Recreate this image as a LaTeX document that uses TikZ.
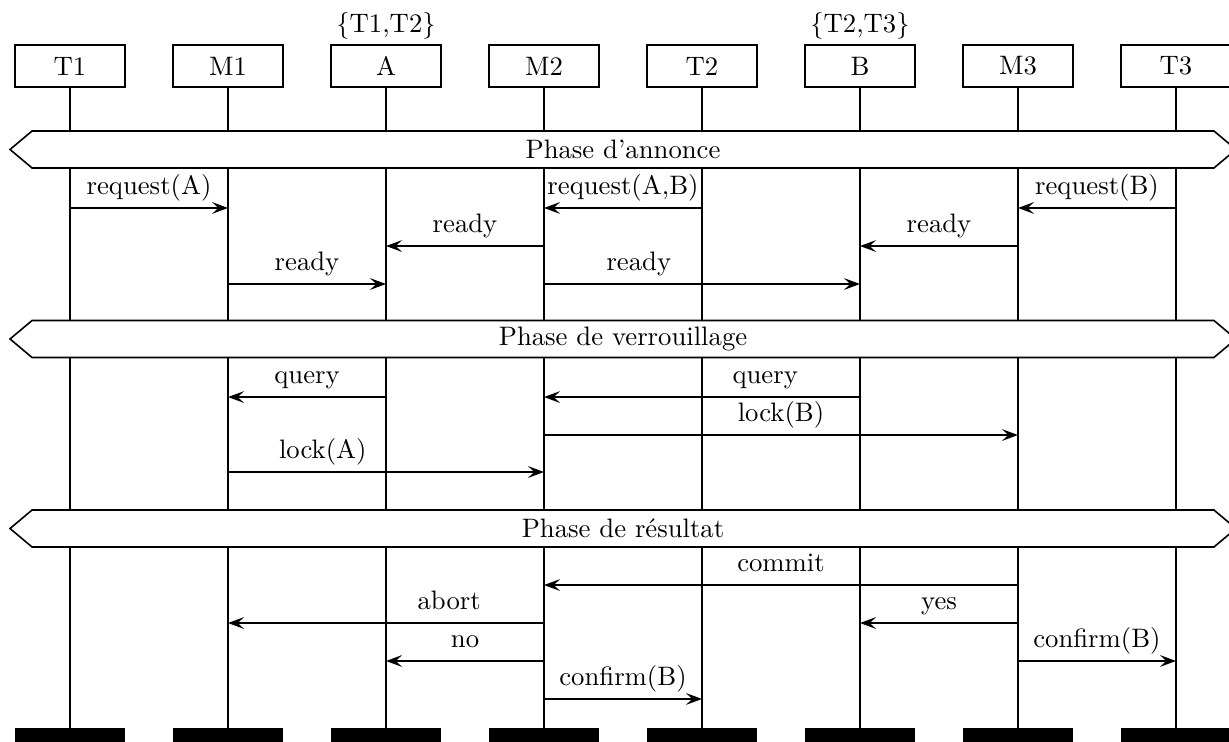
\documentclass[tikz,border=0pt]{standalone}
\usepackage{tikz}
\usetikzlibrary{positioning,arrows.meta}
\usetikzlibrary{shapes.symbols}
\tikzset{obj/.style={
        draw,
        rectangle,
        minimum height=0.553cm,
        minimum width=1.448cm,
        outer sep=0pt,
        line width=0.6pt } }
\tikzset{endbar/.style={
        fill=black,
        rectangle,
        minimum height=0.184cm,
        minimum width=1.448cm,
        inner sep=0pt,
        outer sep=0pt } }
\tikzset{life/.style={line width=0.75pt}}
\tikzset{phase/.style={
        draw,
        fill=white,
        signal,
        signal to=west and east,
        signal pointer angle=80,
        inner ysep=1.5pt,
        minimum height=0.487cm,
        minimum width=16.14cm,
        line width=0.6pt } }
\tikzset{msg/.style={-{Stealth[length=6pt,width=4.4pt,inset=2.4pt]}, line width=0.75pt}}
\tikzset{lbl/.style={above, inner sep=2.4pt, text depth=2.3pt}}

\begin{document}
\begin{tikzpicture}
\useasboundingbox (-0.922,0) rectangle (15.258,-9.768);

% objets
\node[obj] (T1) at (0,-0.869) {T1};
\node[obj] (M1) [right = 0.632cm of T1] {M1};
\node[obj] (A) [right = 0.632cm of M1,label={[inner sep=1.9pt]above:\{T1,T2\}}] {A};
\node[obj] (M2) [right = 0.632cm of A] {M2};
\node[obj] (T2) [right = 0.632cm of M2] {T2};
\node[obj] (B) [right = 0.632cm of T2,label={[inner sep=1.9pt]above:\{T2,T3\}}] {B};
\node[obj] (M3) [right = 0.632cm of B] {M3};
\node[obj] (T3) [right = 0.632cm of M3] {T3};

\coordinate (bottom) at (0,-9.676);
\foreach \n in {T1,M1,A,M2,T2,B,M3,T3} {
  \node[endbar] (\n-end) at (\n |- bottom) {};
  \draw[life] (\n) -- (\n-end);
}

% phases
\node[phase] (ph1) at (7.28,-1.968) {Phase d'annonce};
\node[phase] (ph2) at (7.28,-4.463) {Phase de verrouillage};
\node[phase] (ph3) at (7.28,-6.958) {Phase de résultat};

\coordinate (r1) at (0,-2.738);
\coordinate (r2) at (0,-3.239);
\coordinate (r3) at (0,-3.739);
\coordinate (r4) at (0,-5.227);
\coordinate (r5) at (0,-5.727);
\coordinate (r6) at (0,-6.214);
\coordinate (r7) at (0,-7.702);
\coordinate (r8) at (0,-8.202);
\coordinate (r9) at (0,-8.702);
\coordinate (r10) at (0,-9.202);

\path[msg]
(T1 |- r1) edge node[lbl] {request(A)} (M1 |- r1)
(T2 |- r1) edge node[lbl] {request(A,B)} (M2 |- r1)
(T3 |- r1) edge node[lbl] {request(B)} (M3 |- r1)

(M2 |- r2) edge node[lbl] {ready} (A |- r2)
(M3 |- r2) edge node[lbl] {ready} (B |- r2)
(M1 |- r3) edge node[lbl] {ready} (A |- r3)
(M2 |- r3) edge node[lbl, pos=.3] {ready} (B |- r3)

(A |- r4) edge node[lbl] {query} (M1 |- r4)
(B |- r4) edge node[lbl, pos=.3] {query} (M2 |- r4)
(M2 |- r5) edge node[lbl] {lock(B)} (M3 |- r5)
(M1 |- r6) edge node[lbl, pos=.3] {lock(A)} (M2 |- r6)

(M3 |- r7) edge node[lbl] {commit} (M2 |- r7)
(M3 |- r8) edge node[lbl] {yes} (B |- r8)
(M2 |- r8) edge node[lbl, pos=.3] {abort} (M1 |- r8)
(M2 |- r9) edge node[lbl] {no} (A |- r9)
(M3 |- r9) edge node[lbl] {confirm(B)} (T3 |- r9)
(M2 |- r10) edge node[lbl] {confirm(B)} (T2 |- r10)
;

\end{tikzpicture}
\end{document}
